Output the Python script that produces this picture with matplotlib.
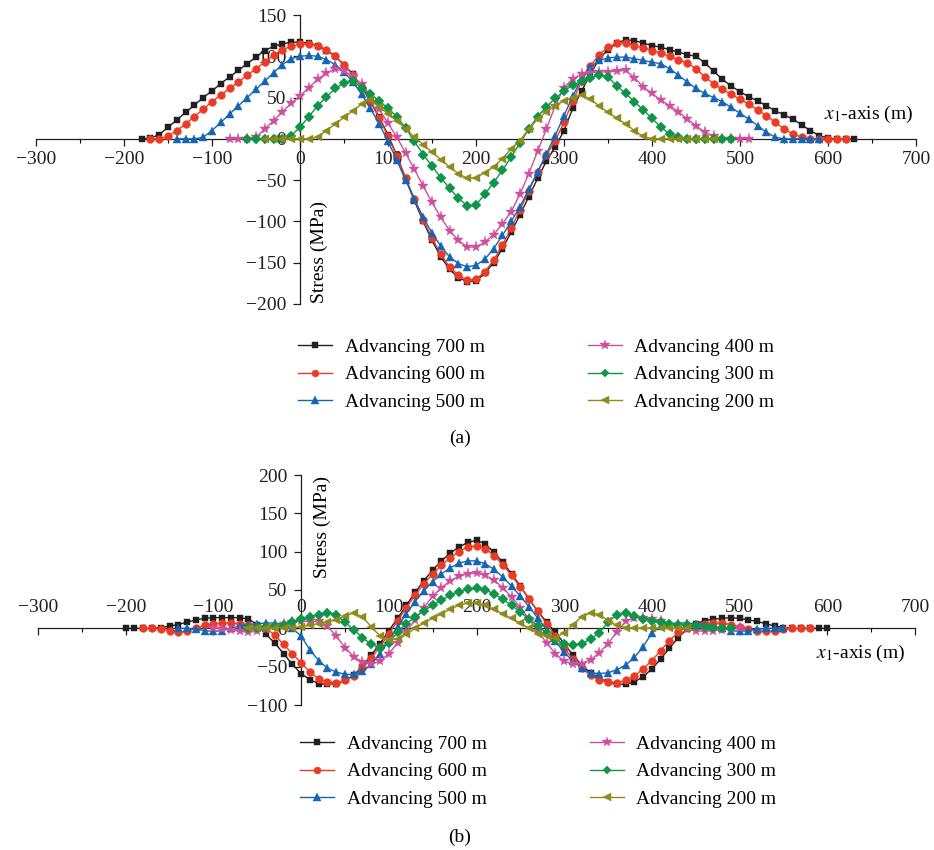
import numpy as np
import matplotlib
matplotlib.use('Agg')
import matplotlib.pyplot as plt
from matplotlib.ticker import MultipleLocator

plt.rcParams['font.family'] = ['Liberation Serif', 'DejaVu Serif']
plt.rcParams['mathtext.fontset'] = 'stix'
plt.rcParams['axes.unicode_minus'] = True

labels = ['Advancing 700 m', 'Advancing 600 m', 'Advancing 500 m',
          'Advancing 400 m', 'Advancing 300 m', 'Advancing 200 m']
colors = ['#231f20', '#ec3b24', '#1565b5', '#cf4f9e', '#0f9547', '#8e8b1a']
markers = ['s', 'o', '^', '*', 'D', '<']
msizes = [5.0, 5.6, 6.0, 8.0, 4.6, 6.0]

# ---- panel (a): x positions every 10 m from the given start ----
a_start = [-180, -170, -140, -80, -60, -40]

a700 = [0, 1, 5, 14, 23, 32, 41, 50, 58, 67,
        75, 83, 91, 99, 107, 112, 115, 117, 117, 116,
        113, 107, 100, 90, 78, 63, 46, 26, 5, -20,
        -48, -75, -100, -123, -143, -158, -168, -173, -172, -163,
        -150, -133, -113, -92, -70, -48, -27, -10, 10, 37,
        58, 78, 97, 108, 116, 120, 119, 116, 113, 111,
        108, 105, 102, 100, 92, 82, 72, 64, 57, 51,
        46, 40, 34, 29, 24, 17, 10, 4, 1, 0,
        0, 0]
a600 = [0, 0, 3, 10, 18, 27, 36, 45, 53, 61,
        69, 77, 85, 93, 101, 108, 112, 115, 115, 113,
        108, 100, 90, 77, 62, 45, 25, 3, -21, -47,
        -73, -98, -120, -140, -155, -165, -171, -170, -161, -147,
        -129, -108, -86, -63, -40, -20, -2, 20, 46, 70,
        88, 102, 111, 116, 116, 113, 110, 107, 104, 100,
        96, 92, 85, 75, 67, 60, 54, 48, 42, 35,
        28, 20, 12, 6, 2, 0, 0, 0, 0, 0]
a500 = [0, 0, 0, 2, 10, 20, 30, 40, 50, 60,
        70, 80, 90, 97, 100, 101, 100, 96, 90, 81,
        69, 54, 37, 18, -3, -26, -50, -73, -95, -114,
        -130, -143, -151, -155, -153, -146, -133, -117, -100, -82,
        -61, -40, -18, 4, 28, 52, 73, 87, 95, 98,
        99, 99, 97, 95, 93, 91, 85, 77, 69, 61,
        55, 50, 45, 38, 31, 24, 16, 8, 2, 0,
        0, 0, 0, 0]
a400 = [0, 0, 0, 2, 12, 22, 33, 43, 52, 62,
        72, 80, 84, 82, 76, 66, 52, 36, 19, 2,
        -17, -37, -57, -77, -95, -111, -123, -131, -131, -125,
        -116, -103, -88, -67, -42, -15, 12, 40, 62, 73,
        78, 80, 81, 81, 82, 83, 74, 63, 55, 47,
        40, 33, 24, 16, 8, 3, 0, 0, 0, 0]
a300 = [0, 0, 0, 0, 0, 4, 14, 27, 40, 51,
        61, 68, 70, 62, 54, 46, 37, 27, 13, -3,
        -19, -33, -47, -60, -72, -81, -80, -67, -53, -38,
        -22, -5, 12, 27, 39, 49, 58, 65, 70, 74,
        77, 75, 64, 55, 45, 35, 25, 14, 6, 2,
        0, 0, 0, 0, 0, 0]
a200 = [0, 0, 0, 0, 0, 0, 2, 10, 18, 26,
        34, 42, 47, 39, 30, 22, 12, 2, -7, -16,
        -25, -34, -42, -48, -47, -41, -34, -24, -12, -2,
        12, 24, 33, 40, 46, 50, 53, 48, 40, 32,
        25, 18, 10, 3, 0, 0, 0, 0, 0, 0,
        0, 0]

# ---- panel (b) ----
b_start = [-200, -180, -140, -100, -60, -60]

b700 = [0, 0, 0, 0, 1, 3, 5, 8, 11, 13,
        14, 14, 14, 14, 12, 5, -8, -19, -33, -47,
        -59, -67, -72, -73, -72, -68, -61, -50, -35, -20,
        -3, 13, 30, 47, 62, 76, 88, 98, 106, 112,
        115, 110, 99, 86, 71, 55, 38, 22, 8, -5,
        -20, -35, -48, -58, -65, -70, -73, -73, -70, -63,
        -53, -40, -26, -12, -1, 6, 10, 12, 13, 14,
        13, 11, 9, 6, 3, 1, 0, 0, 0, 0,
        0]
b600 = [0, 0, -1, -3, -5, -4, 0, 4, 6, 7,
        7, 6, 5, 3, 0, -9, -21, -33, -45, -57,
        -66, -70, -71, -68, -62, -52, -39, -24, -7, 10,
        27, 43, 58, 71, 82, 92, 100, 106, 108, 104,
        95, 83, 69, 54, 38, 22, 6, -10, -26, -40,
        -52, -61, -67, -70, -71, -68, -62, -53, -42, -29,
        -16, -5, 2, 5, 6, 7, 7, 5, 2, -1,
        -3, -4, -3, -1, 0, 0, 0]
b500 = [0, 0, -1, -3, -4, -3, 0, 3, 5, 6,
        7, 7, 5, 0, -10, -28, -42, -52, -57, -60,
        -60, -56, -47, -33, -16, 2, 19, 35, 49, 61,
        71, 79, 85, 88, 88, 84, 77, 67, 55, 42,
        28, 13, -2, -17, -31, -43, -52, -58, -59, -58,
        -54, -48, -38, -24, -6, 3, 6, 7, 7, 6,
        5, 3, 0, -3, -4, -3, -1, 0, 0, 0]
b400 = [0, -1, -2, -4, -5, -4, -1, 3, 6, 8,
        9, 9, 9, 3, -10, -25, -37, -44, -47, -43,
        -33, -19, -4, 11, 27, 42, 53, 62, 68, 71,
        72, 69, 63, 53, 41, 27, 12, -4, -19, -33,
        -43, -47, -46, -41, -32, -20, -5, 9, 14, 14,
        12, 9, 5, 2, -1, -3, -4, -3, -2, -1,
        0]
b300 = [0, 1, 2, 3, 5, 8, 12, 15, 18, 20,
        18, 8, -2, -12, -21, -25, -19, -5, 6, 15,
        23, 30, 37, 43, 48, 51, 52, 50, 45, 38,
        30, 21, 12, 3, -6, -15, -20, -22, -20, -14,
        -6, 8, 18, 20, 16, 12, 10, 8, 6, 5,
        4, 3, 2, 1, 0, 0]
b200 = [0, 0, 0, 1, 1, 1, 2, 4, 6, 8,
        11, 16, 20, 15, 2, -10, -15, -14, -8, 0,
        7, 13, 19, 25, 30, 33, 33, 30, 25, 19,
        13, 7, 0, -7, -10, -12, -6, 5, 15, 20,
        18, 10, 4, 1, 0, 0, 0, 0, 0, 0,
        0]

a_series = [a700, a600, a500, a400, a300, a200]
b_series = [b700, b600, b500, b400, b300, b200]

fig = plt.figure(figsize=(9.34, 8.5), dpi=100)


def style_axes(ax, ymin, ymax, ystep, labels_above):
    ax.set_xlim(-300, 700)
    ax.set_ylim(ymin, ymax)
    ax.spines['right'].set_visible(False)
    ax.spines['left'].set_position(('data', 0))
    ax.spines['bottom'].set_position(('data', 0))
    ax.spines['top'].set_position(('data', 0))
    ax.spines['top'].set_visible(False)
    for s in ['left', 'bottom']:
        ax.spines[s].set_linewidth(0.9)
        ax.spines[s].set_color('#231f20')
    ax.xaxis.set_major_locator(MultipleLocator(100))
    ax.xaxis.set_minor_locator(MultipleLocator(50))
    ax.yaxis.set_major_locator(MultipleLocator(ystep))
    ax.tick_params(axis='both', which='major', direction='out', length=5,
                   width=0.9, labelsize=14, colors='#231f20')
    ax.tick_params(axis='x', which='minor', direction='out', length=3, width=0.8)
    ax.tick_params(axis='y', pad=5)
    ax.yaxis.set_ticks_position('left')
    ax.xaxis.set_ticks_position('bottom')
    if labels_above:
        ax.tick_params(axis='x', which='both', labelbottom=False, labeltop=True, pad=4)
    else:
        ax.tick_params(axis='x', pad=3.5)
    ax.patch.set_alpha(0)


def draw(ax, series, starts):
    for vals, x0, c, m, ms, lab in zip(series, starts, colors, markers, msizes, labels):
        x = np.arange(len(vals)) * 10 + x0
        ax.plot(x, vals, color=c, marker=m, markersize=ms, markeredgewidth=0.3,
                markeredgecolor=c, linewidth=1.0, label=lab, zorder=3,
                clip_on=False)


def add_legend(ax, top_px, left_px):
    h, l = ax.get_legend_handles_labels()
    fig.legend(h, l, loc='upper left', bbox_to_anchor=(left_px / 934, 1 - top_px / 850),
               ncol=2, frameon=False, fontsize=14, handlelength=1.75,
               handletextpad=0.65, columnspacing=5.3, labelspacing=0.52,
               borderpad=0, borderaxespad=0, markerscale=0.9)


# ---- (a) ----
ax1 = fig.add_axes([36 / 934, 1 - 304 / 850, 880 / 934, 289 / 850])
style_axes(ax1, -200, 150, 50, labels_above=False)
draw(ax1, a_series, a_start)
ax1.text(22, -199, 'Stress (MPa)', rotation=90, ha='center', va='bottom', fontsize=14)
ax1.text(697, 29, r'$x_1$-axis (m)', ha='right', va='center', fontsize=14)
add_legend(ax1, 338, 298)
fig.text(460 / 934, 1 - 438 / 850, '(a)', ha='center', va='center', fontsize=14)

# ---- (b) ----
ax2 = fig.add_axes([38 / 934, 1 - 705 / 850, 877 / 934, 230 / 850])
style_axes(ax2, -100, 200, 50, labels_above=True)
draw(ax2, b_series, b_start)
ax2.text(24, 199, 'Stress (MPa)', rotation=90, ha='center', va='top', fontsize=14)
ax2.text(689, -33, r'$x_1$-axis (m)', ha='right', va='center', fontsize=14)
add_legend(ax2, 735, 300)
fig.text(460 / 934, 1 - 837 / 850, '(b)', ha='center', va='center', fontsize=14)

fig.savefig('out.png', dpi=100)
